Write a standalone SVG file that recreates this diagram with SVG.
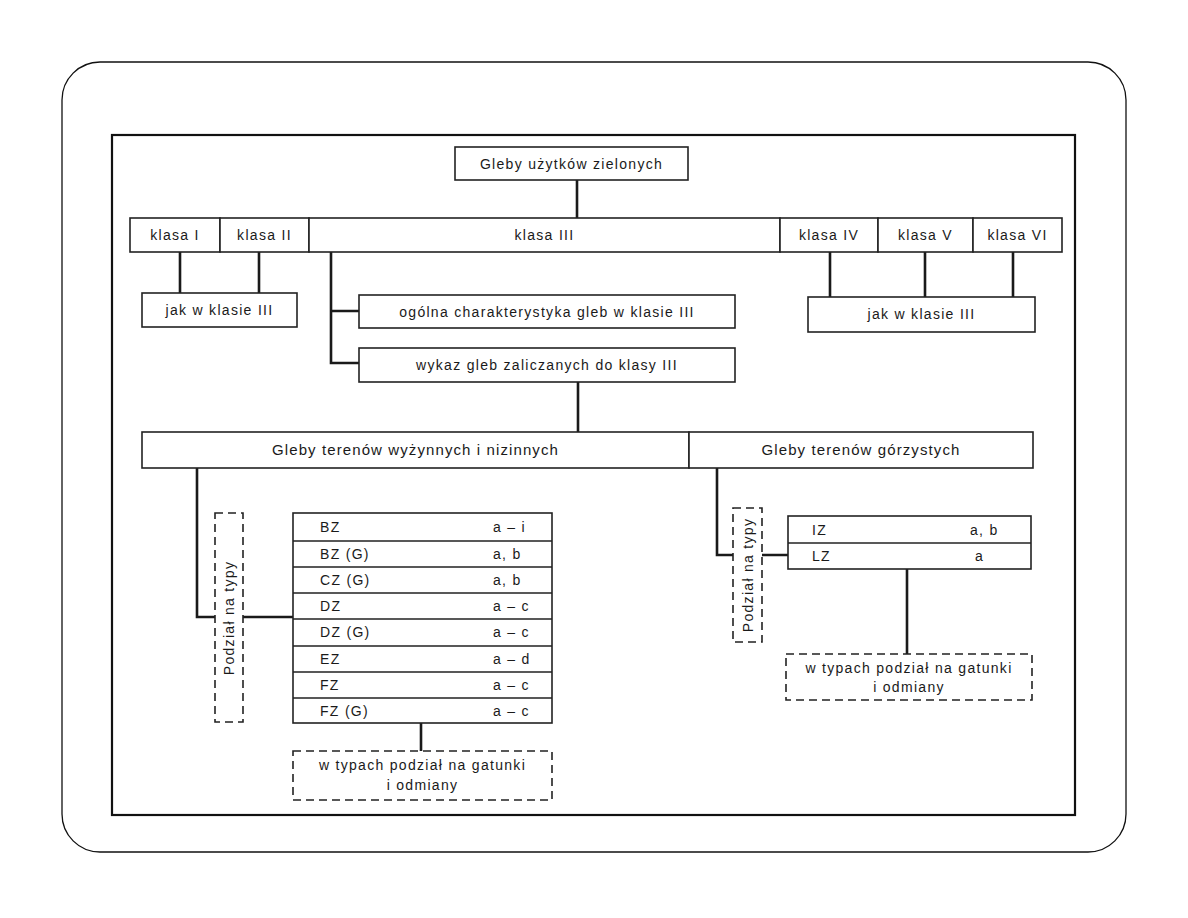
<svg xmlns="http://www.w3.org/2000/svg" width="1188" height="918" viewBox="0 0 1188 918">
<style>
  .box { fill: #fff; stroke: #222; stroke-width: 1.6; }
  .dash { fill: #fff; stroke: #222; stroke-width: 1.6; stroke-dasharray: 8 5; }
  .conn { fill: none; stroke: #1a1a1a; stroke-width: 2.6; }
  .rule { fill: none; stroke: #222; stroke-width: 1.6; }
  text { font-family: "Liberation Sans", Arial, sans-serif; font-size: 14px; letter-spacing: 1.3px; fill: #1a1a1a; }
  .c { text-anchor: middle; }
  .big { font-size: 15px; letter-spacing: 1.1px; }
</style>
<rect x="62" y="62" width="1064" height="790" rx="38" ry="38" fill="#fff" stroke="#111" stroke-width="1.3"/>
<rect x="112" y="135" width="963" height="680" fill="none" stroke="#111" stroke-width="2.2"/>

<g id="connectors">
  <path class="conn" d="M577 180 V218"/>
  <path class="conn" d="M180 252 V293 M259 252 V293"/>
  <path class="conn" d="M331 252 V363 H359 M331 311 H359"/>
  <path class="conn" d="M830 252 V297 M925 252 V297 M1013 252 V297"/>
  <path class="conn" d="M578 382 V432"/>
  <path class="conn" d="M197 468 V617 H293"/>
  <path class="conn" d="M421 723 V751"/>
  <path class="conn" d="M717 468 V555 H788"/>
  <path class="conn" d="M907 569 V654"/>
</g>

<g id="root">
  <rect class="box" x="455" y="147" width="233" height="33"/>
  <text class="c" x="571.5" y="168.5">Gleby użytków zielonych</text>
</g>

<g id="klasa-I">
  <rect class="box" x="130" y="218" width="90" height="34"/>
  <text class="c" x="175" y="240">klasa I</text>
</g>
<g id="klasa-II">
  <rect class="box" x="220" y="218" width="89" height="34"/>
  <text class="c" x="264.5" y="240">klasa II</text>
</g>
<g id="klasa-III">
  <rect class="box" x="309" y="218" width="471" height="34"/>
  <text class="c" x="544.5" y="240">klasa III</text>
</g>
<g id="klasa-IV">
  <rect class="box" x="780" y="218" width="98" height="34"/>
  <text class="c" x="829" y="240">klasa IV</text>
</g>
<g id="klasa-V">
  <rect class="box" x="878" y="218" width="95" height="34"/>
  <text class="c" x="925.5" y="240">klasa V</text>
</g>
<g id="klasa-VI">
  <rect class="box" x="973" y="218" width="89" height="34"/>
  <text class="c" x="1017.5" y="240">klasa VI</text>
</g>

<g id="jak-left">
  <rect class="box" x="142" y="293" width="155" height="34"/>
  <text class="c" x="219.5" y="315">jak w klasie III</text>
</g>
<g id="jak-right">
  <rect class="box" x="808" y="297" width="227" height="35"/>
  <text class="c" x="921.5" y="319">jak w klasie III</text>
</g>

<g id="ogolna">
  <rect class="box" x="359" y="295" width="376" height="33"/>
  <text class="c" x="547" y="316.5">ogólna charakterystyka gleb w klasie III</text>
</g>
<g id="wykaz">
  <rect class="box" x="359" y="348" width="376" height="34"/>
  <text class="c" x="547" y="370">wykaz gleb zaliczanych do klasy III</text>
</g>

<g id="wyzynne">
  <rect class="box" x="142" y="432" width="547" height="36"/>
  <text class="c big" x="415.5" y="455">Gleby terenów wyżynnych i nizinnych</text>
</g>
<g id="gorzyste">
  <rect class="box" x="689" y="432" width="344" height="36"/>
  <text class="c big" x="861" y="455">Gleby terenów górzystych</text>
</g>

<g id="podzial-left">
  <rect class="dash" x="215" y="513" width="28" height="209"/>
  <text class="c" transform="translate(234 618) rotate(-90)" x="0" y="0">Podział na typy</text>
</g>
<g id="podzial-right">
  <rect class="dash" x="733" y="508" width="29" height="134"/>
  <text class="c" transform="translate(752.5 575) rotate(-90)" x="0" y="0">Podział na typy</text>
</g>

<g id="table-left">
  <rect class="box" x="293" y="513" width="259" height="210"/>
  <path class="rule" d="M293 541 H552 M293 567 H552 M293 593 H552 M293 619 H552 M293 646 H552 M293 672 H552 M293 698 H552"/>
  <text x="320" y="532">BZ</text><text x="493" y="532">a – i</text>
  <text x="320" y="559">BZ (G)</text><text x="493" y="559">a, b</text>
  <text x="320" y="585">CZ (G)</text><text x="493" y="585">a, b</text>
  <text x="320" y="611">DZ</text><text x="493" y="611">a – c</text>
  <text x="320" y="637">DZ (G)</text><text x="493" y="637">a – c</text>
  <text x="320" y="664">EZ</text><text x="493" y="664">a – d</text>
  <text x="320" y="690">FZ</text><text x="493" y="690">a – c</text>
  <text x="320" y="716">FZ (G)</text><text x="493" y="716">a – c</text>
</g>

<g id="table-right">
  <rect class="box" x="788" y="516" width="243" height="53"/>
  <path class="rule" d="M788 543 H1031"/>
  <text x="812" y="535">IZ</text><text x="970" y="535">a, b</text>
  <text x="812" y="561">LZ</text><text x="975" y="561">a</text>
</g>

<g id="gatunki-left">
  <rect class="dash" x="293" y="751" width="259" height="49"/>
  <text class="c" x="422.5" y="770">w typach podział na gatunki</text>
  <text class="c" x="422.5" y="790">i odmiany</text>
</g>
<g id="gatunki-right">
  <rect class="dash" x="786" y="654" width="246" height="46"/>
  <text class="c" x="909" y="673">w typach podział na gatunki</text>
  <text class="c" x="909" y="692">i odmiany</text>
</g>
</svg>
